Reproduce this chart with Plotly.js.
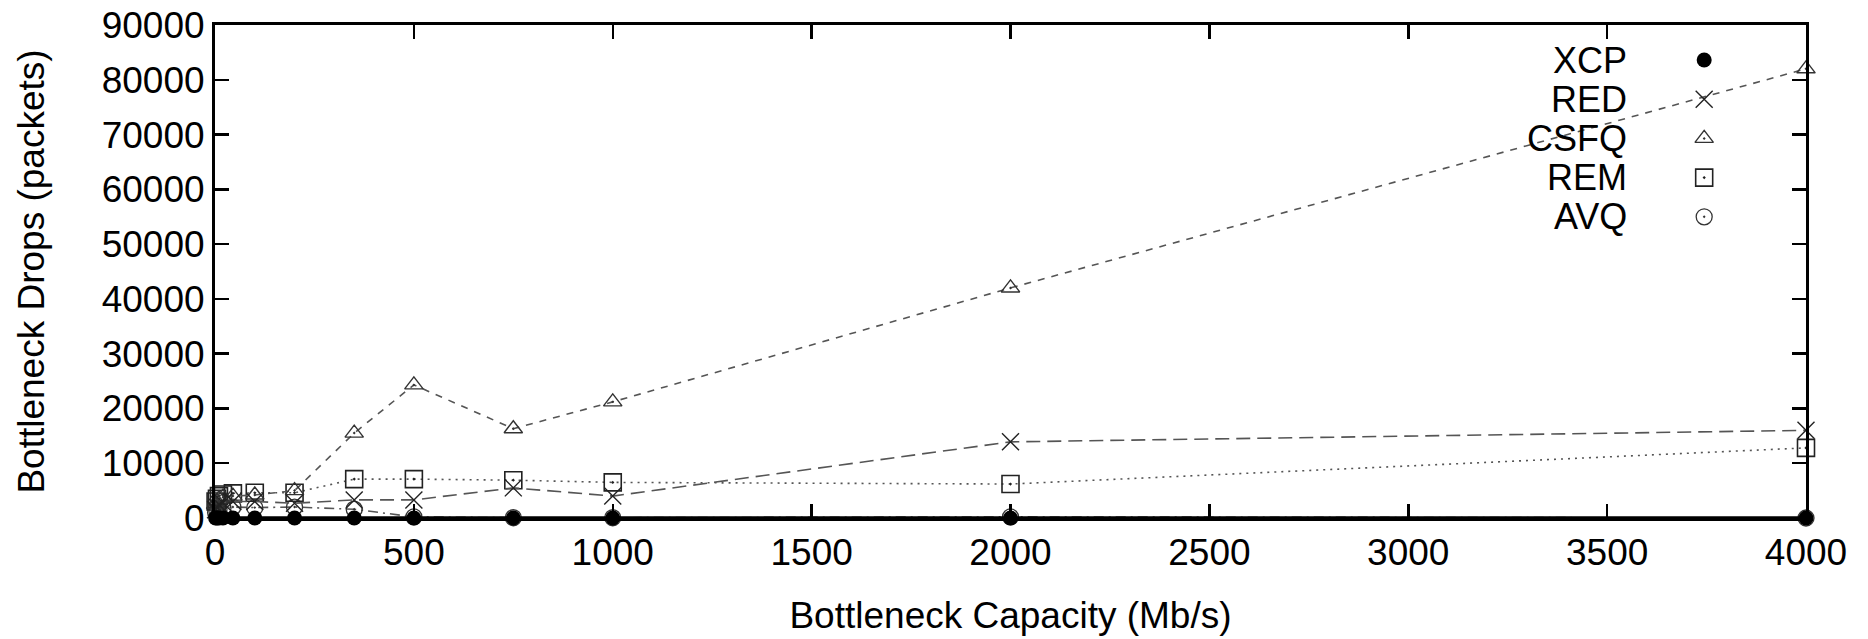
<!DOCTYPE html>
<html>
<head>
<meta charset="utf-8">
<script src="https://cdn.plot.ly/plotly-3.0.1.min.js"></script>
<style>html,body{margin:0;padding:0;background:#fff}#chart{width:1868px;height:639px}</style>
</head>
<body>
<div id="chart"></div>
<script>
// ---- data ----
const capacity = [1.5, 5, 10, 20, 45, 100, 200, 350, 500, 750, 1000, 2000, 4000];
const xcp  = [0, 0, 0, 0, 0, 0, 0, 0, 0, 0, 0, 0, 0];
const red  = [1500, 2000, 2500, 2800, 3000, 3000, 2700, 3300, 3300, 5500, 4000, 13900, 16000];
const csfq = [2500, 3000, 3500, 3800, 4000, 4200, 5000, 15500, 24300, 16300, 21200, 42000, 82000];
const rem  = [3000, 3500, 4000, 4300, 4500, 4600, 4600, 7100, 7100, 6900, 6500, 6200, 12800];
const avq  = [1000, 1200, 1500, 1800, 2000, 1900, 2000, 1600, 200, 50, 50, 200, 0];
const seriesNames = ['XCP', 'RED', 'CSFQ', 'REM', 'AVQ'];
const xTicks = [0, 500, 1000, 1500, 2000, 2500, 3000, 3500, 4000];
const yTicks = [0, 10000, 20000, 30000, 40000, 50000, 60000, 70000, 80000, 90000];

// ---- styles ----
const FONT = 'Liberation Sans, Arial, Helvetica, sans-serif';
const styles = {
  XCP:  {line: {color: '#000', width: 3.5, dash: 'solid'}, marker: {symbol: 'circle', size: 15, color: '#000'}},
  RED:  {line: {color: '#555', width: 1.6, dash: '14px,7px'}, marker: {symbol: 'x-thin-open', size: 17, color: '#222', line: {color: '#222', width: 1.4}}},
  CSFQ: {line: {color: '#555', width: 1.6, dash: '7px,7px'}, marker: {symbol: 'triangle-up-open-dot', size: 16, color: '#333', line: {color: '#333', width: 1.4}}},
  REM:  {line: {color: '#555', width: 1.6, dash: '2px,5px'}, marker: {symbol: 'square-open-dot', size: 17, color: '#222', line: {color: '#222', width: 1.6}}},
  AVQ:  {line: {color: '#555', width: 1.6, dash: '10px,5px,2px,5px'}, marker: {symbol: 'circle-open-dot', size: 16, color: '#333', line: {color: '#333', width: 1.3}}}
};
const values = {XCP: xcp, RED: red, CSFQ: csfq, REM: rem, AVQ: avq};

const traces = [];
// draw in reverse so XCP sits on top
['AVQ', 'REM', 'CSFQ', 'RED', 'XCP'].forEach(name => {
  traces.push({
    type: 'scatter', mode: 'lines+markers', name: name,
    x: capacity, y: values[name],
    line: styles[name].line, marker: styles[name].marker,
    showlegend: false, cliponaxis: false
  });
});

// manual legend (text to the left of the symbol, gnuplot style)
const legTop = 0.929, legStep = 0.0795, legMarkX = 0.936, legTextX = 0.889;
const annotations = [];
seriesNames.forEach((name, i) => {
  const yy = legTop - i * legStep;
  traces.push({
    type: 'scatter', mode: 'markers', x: [legMarkX], y: [yy],
    xaxis: 'x2', yaxis: 'y2', showlegend: false, hoverinfo: 'skip',
    marker: styles[name].marker, cliponaxis: false
  });
  annotations.push({
    xref: 'paper', yref: 'paper', x: legTextX, y: yy, xanchor: 'right', yanchor: 'middle',
    text: name, showarrow: false, font: {family: FONT, size: 36, color: '#000'}
  });
});

const layout = {
  width: 1868, height: 639,
  margin: {l: 215, r: 62, t: 25, b: 121},
  paper_bgcolor: '#fff', plot_bgcolor: '#fff',
  font: {family: FONT, color: '#000'},
  showlegend: false,
  xaxis: {
    range: [0, 4000], tickvals: xTicks, ticktext: xTicks.map(String),
    showgrid: false, zeroline: false, showline: true, linecolor: '#000', linewidth: 3,
    mirror: 'allticks', ticks: 'inside', ticklen: 14, tickwidth: 2.5, tickcolor: '#000',
    tickfont: {family: FONT, size: 37, color: '#000'},
    title: {text: 'Bottleneck Capacity (Mb/s)', font: {family: FONT, size: 37, color: '#000'}, standoff: 30}
  },
  yaxis: {
    range: [0, 90000], tickvals: yTicks, ticktext: yTicks.map(String),
    showgrid: false, zeroline: false, showline: true, linecolor: '#000', linewidth: 3,
    mirror: 'allticks', ticks: 'inside', ticklen: 14, tickwidth: 2.5, tickcolor: '#000',
    tickfont: {family: FONT, size: 37, color: '#000'},
    title: {text: 'Bottleneck Drops (packets)', font: {family: FONT, size: 37, color: '#000'}, standoff: 46}
  },
  xaxis2: {overlaying: 'x', range: [0, 1], visible: false, fixedrange: true},
  yaxis2: {overlaying: 'y', range: [0, 1], visible: false, fixedrange: true},
  annotations: annotations
};

Plotly.newPlot('chart', traces, layout, {displayModeBar: false, staticPlot: true});
</script>
</body>
</html>
